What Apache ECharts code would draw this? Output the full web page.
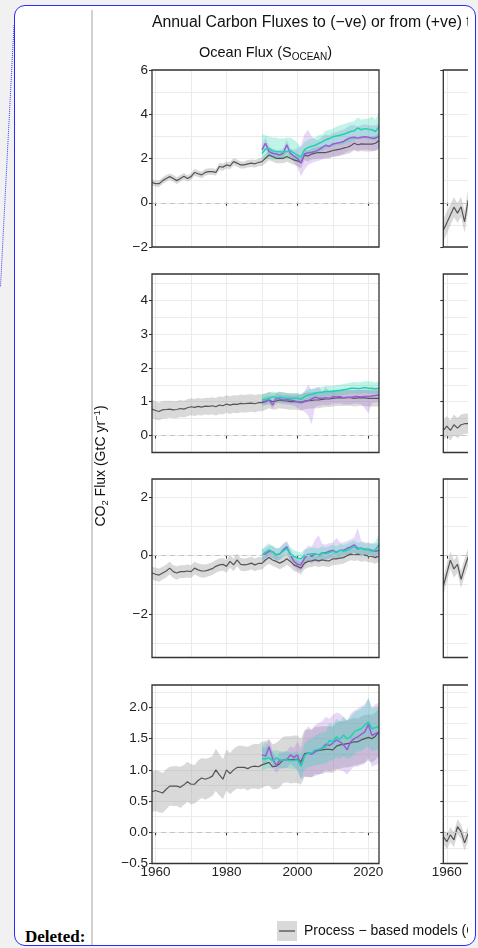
<!DOCTYPE html>
<html><head><meta charset="utf-8"><title>Annual Carbon Fluxes</title>
<script src="https://cdn.jsdelivr.net/npm/echarts@6.0.0/dist/echarts.min.js"></script>
<style>
html,body{margin:0;padding:0;background:#f1f1f1;width:478px;height:948px;overflow:hidden;}
#frame{position:absolute;left:14px;top:5px;width:462px;height:941px;box-sizing:border-box;border:1.5px solid #2a2aff;border-radius:11px;background:#fff;}
#vline{position:absolute;left:91px;top:10px;width:2px;height:935px;background:#d2d2d2;}
#dots{position:absolute;left:0;top:0;}
#clip{position:absolute;left:93px;top:6px;width:375px;height:939px;overflow:hidden;}
#chart{position:absolute;left:0;top:0;width:620px;height:939px;}
#deleted{position:absolute;left:25px;top:928px;font:bold 17px "Liberation Serif","Times New Roman",serif;color:#000;line-height:18px;}
</style></head>
<body>
<div id="frame"></div>
<div id="vline"></div>
<svg id="dots" width="20" height="300"><line x1="14" y1="25" x2="0.5" y2="287" stroke="#3b3bff" stroke-width="1" stroke-dasharray="1 1"/></svg>
<div id="clip"><div id="chart"></div></div>
<div id="deleted">Deleted:</div>
<script>
// ---------- data ----------
const years = [1959,1960,1961,1962,1963,1964,1965,1966,1967,1968,
  1969,1970,1971,1972,1973,1974,1975,1976,1977,1978,
  1979,1980,1981,1982,1983,1984,1985,1986,1987,1988,
  1989,1990,1991,1992,1993,1994,1995,1996,1997,1998,
  1999,2000,2001,2002,2003,2004,2005,2006,2007,2008,
  2009,2010,2011,2012,2013,2014,2015,2016,2017,2018,
  2019,2020,2021,2022,2023];
const yearsObs = years.slice(31);   // 1990-2023
const yearsRight = years.slice(0, 9); // 1959-1967 (visible part of 2nd column)

// Row 1 (global)
const p1ModelMean = [0.92,0.86,0.86,1.0,1.1,1.18,1.1,1.0,1.1,1.2,
  1.1,1.18,1.37,1.31,1.26,1.37,1.41,1.41,1.37,1.64,
  1.61,1.71,1.67,1.86,1.79,1.71,1.71,1.76,1.79,1.76,
  1.82,1.86,2.01,2.16,2.09,2.01,2.01,2.01,2.09,2.01,
  1.94,1.89,1.82,2.16,2.11,2.2,2.24,2.27,2.27,2.27,
  2.31,2.36,2.39,2.42,2.47,2.51,2.57,2.69,2.62,2.66,
  2.65,2.65,2.65,2.69,2.81];
const p1ModelSd = [0.14,0.14,0.15,0.15,0.15,0.14,0.15,0.15,0.15,0.15,
  0.14,0.15,0.15,0.15,0.15,0.15,0.15,0.15,0.15,0.16,
  0.16,0.16,0.16,0.16,0.16,0.16,0.16,0.17,0.17,0.17,
  0.17,0.2,0.22,0.24,0.22,0.22,0.22,0.22,0.24,0.22,
  0.22,0.24,0.26,0.24,0.25,0.25,0.26,0.27,0.27,0.28,
  0.28,0.29,0.3,0.3,0.3,0.31,0.31,0.32,0.32,0.32,
  0.33,0.33,0.33,0.34,0.34];
const p1TealMean = [2.22,2.42,2.45,2.35,2.3,2.3,2.28,2.32,2.35,2.25,
  2.15,2.08,2.4,2.5,2.55,2.6,2.68,2.75,2.85,2.9,
  2.98,3.02,3.05,3.1,3.15,3.22,3.25,3.38,3.3,3.35,
  3.32,3.3,3.22,3.44];
const p1TealLo = [1.95,2.0,2.0,1.95,1.95,1.95,1.95,2.0,2.0,1.9,
  1.85,1.8,2.05,2.15,2.2,2.25,2.3,2.35,2.45,2.5,
  2.55,2.6,2.6,2.65,2.7,2.75,2.8,2.9,2.85,2.9,
  2.85,2.85,2.8,2.95];
const p1TealHi = [3.1,3.05,3.0,2.95,2.95,2.9,2.9,2.95,2.95,2.85,
  2.7,2.5,2.75,2.85,2.9,2.95,3.05,3.1,3.25,3.3,
  3.35,3.45,3.5,3.55,3.6,3.65,3.7,3.85,3.75,3.8,
  3.8,3.9,3.75,4.1];
const p1PurpleMean = [2.39,2.69,2.31,2.24,2.2,2.16,2.24,2.62,2.24,2.11,
  2.01,1.79,2.2,2.26,2.28,2.32,2.39,2.5,2.6,2.55,
  2.66,2.69,2.72,2.77,2.87,2.94,2.96,2.92,2.96,2.98,
  2.96,2.92,2.92,3.0];
const p1PurpleLo = [2.15,2.4,2.1,2.05,2.0,1.95,2.0,2.35,2.0,1.85,
  1.6,1.2,1.5,1.7,1.8,1.85,1.9,1.95,2.05,2.0,
  2.1,2.1,2.15,2.2,2.3,2.35,2.4,2.35,2.4,2.4,
  2.4,2.35,2.35,2.4];
const p1PurpleHi = [2.6,2.95,2.55,2.45,2.4,2.4,2.45,2.85,2.45,2.4,
  2.45,2.6,3.1,3.3,3.0,2.85,2.85,3.0,3.1,3.05,
  3.15,3.2,3.25,3.3,3.4,3.5,3.5,3.45,3.5,3.55,
  3.5,3.5,3.5,3.6];

// Row 2 (north)
const p2ModelMean = [0.78,0.74,0.71,0.76,0.77,0.78,0.76,0.77,0.8,0.78,
  0.82,0.85,0.83,0.86,0.84,0.87,0.86,0.88,0.85,0.9,
  0.88,0.93,0.9,0.93,0.92,0.95,0.94,0.95,0.96,0.94,
  0.97,0.97,1.0,1.05,1.0,1.02,1.05,1.03,1.02,1.0,
  1.0,1.0,0.98,1.02,1.03,1.04,1.05,1.05,1.07,1.08,
  1.08,1.1,1.11,1.12,1.11,1.12,1.12,1.1,1.11,1.12,
  1.11,1.1,1.1,1.1,1.1];
const p2ModelSd = [0.27,0.27,0.26,0.26,0.26,0.25,0.25,0.25,0.25,0.25,
  0.25,0.25,0.25,0.25,0.25,0.25,0.25,0.25,0.26,0.26,
  0.26,0.26,0.26,0.26,0.26,0.26,0.26,0.26,0.26,0.26,
  0.25,0.25,0.24,0.24,0.24,0.24,0.24,0.24,0.24,0.24,
  0.24,0.24,0.24,0.24,0.24,0.24,0.24,0.24,0.24,0.24,
  0.24,0.24,0.24,0.24,0.24,0.24,0.24,0.24,0.24,0.24,
  0.24,0.24,0.24,0.24,0.24];
const p2TealMean = [1.05,1.07,1.1,1.15,1.12,1.13,1.12,1.1,1.1,1.1,
  1.1,1.07,1.15,1.2,1.22,1.25,1.27,1.28,1.3,1.3,
  1.3,1.32,1.33,1.35,1.37,1.4,1.4,1.39,1.4,1.42,
  1.4,1.4,1.38,1.4];
const p2TealLo = [0.88,0.9,0.95,1.0,0.97,0.98,0.97,0.95,0.95,0.95,
  0.95,0.92,1.0,1.05,1.07,1.1,1.12,1.13,1.15,1.15,
  1.15,1.17,1.18,1.2,1.22,1.24,1.24,1.23,1.24,1.26,
  1.24,1.24,1.22,1.24];
const p2TealHi = [1.22,1.25,1.27,1.3,1.28,1.29,1.28,1.26,1.26,1.26,
  1.26,1.23,1.3,1.36,1.38,1.41,1.43,1.44,1.46,1.47,
  1.47,1.49,1.5,1.52,1.54,1.57,1.58,1.57,1.58,1.6,
  1.6,1.59,1.57,1.6];
const p2PurpleMean = [1.0,1.02,1.05,0.9,1.1,1.08,1.05,1.06,1.05,1.03,
  1.0,0.97,1.0,1.03,1.08,1.13,1.1,1.1,1.12,1.1,
  1.15,1.14,1.15,1.12,1.13,1.13,1.15,1.15,1.14,1.15,
  1.15,1.17,1.18,1.2];
const p2PurpleLo = [0.88,0.9,0.92,0.8,0.95,0.95,0.92,0.92,0.9,0.88,
  0.82,0.75,0.7,0.6,0.33,0.85,0.88,0.9,0.9,0.9,
  0.95,0.95,0.95,0.92,0.92,0.92,0.95,0.95,0.92,0.8,
  0.65,0.95,0.98,1.0];
const p2PurpleHi = [1.12,1.15,1.18,1.05,1.25,1.22,1.2,1.2,1.2,1.18,
  1.2,1.2,1.3,1.5,1.35,1.38,1.44,1.3,1.45,1.3,
  1.35,1.34,1.35,1.32,1.33,1.33,1.35,1.35,1.34,1.36,
  1.36,1.38,1.4,1.42];

// Row 3 (tropics)
const p3ModelMean = [-0.6,-0.64,-0.67,-0.6,-0.53,-0.43,-0.55,-0.6,-0.55,-0.55,
  -0.53,-0.55,-0.43,-0.49,-0.53,-0.53,-0.49,-0.45,-0.37,-0.32,
  -0.3,-0.37,-0.2,-0.32,-0.15,-0.3,-0.32,-0.3,-0.26,-0.32,
  -0.27,-0.27,-0.15,-0.07,-0.15,-0.2,-0.26,-0.2,-0.11,-0.2,
  -0.32,-0.37,-0.43,-0.26,-0.2,-0.18,-0.15,-0.18,-0.15,-0.17,
  -0.18,-0.11,-0.11,-0.09,-0.07,0.0,0.05,0.02,0.05,0.0,
  0.02,-0.02,-0.03,-0.07,0.0];
const p3ModelSd = [0.22,0.22,0.23,0.22,0.22,0.22,0.22,0.23,0.22,0.22,
  0.22,0.22,0.22,0.22,0.23,0.22,0.22,0.22,0.22,0.22,
  0.22,0.22,0.22,0.22,0.22,0.22,0.22,0.22,0.22,0.22,
  0.22,0.22,0.21,0.21,0.21,0.21,0.21,0.21,0.21,0.21,
  0.21,0.21,0.22,0.21,0.21,0.21,0.21,0.21,0.21,0.21,
  0.21,0.21,0.21,0.21,0.21,0.21,0.21,0.21,0.21,0.21,
  0.21,0.21,0.21,0.21,0.21];
const p3TealMean = [0.0,0.12,0.2,0.12,0.03,0.06,0.15,0.25,0.05,-0.03,
  -0.09,-0.11,0.0,0.02,0.06,0.06,0.02,0.1,0.06,0.1,
  0.15,0.1,0.18,0.15,0.18,0.25,0.3,0.22,0.25,0.2,
  0.2,0.15,0.2,0.37];
const p3TealLo = [-0.2,-0.08,0.0,-0.08,-0.17,-0.14,-0.05,0.05,-0.15,-0.23,
  -0.29,-0.31,-0.2,-0.18,-0.14,-0.14,-0.18,-0.1,-0.14,-0.1,
  -0.05,-0.1,-0.02,-0.05,-0.02,0.05,0.1,0.02,0.05,0.0,
  0.0,-0.05,0.0,0.1];
const p3TealHi = [0.22,0.34,0.42,0.34,0.25,0.28,0.37,0.47,0.27,0.19,
  0.13,0.11,0.22,0.24,0.28,0.28,0.24,0.32,0.28,0.32,
  0.37,0.32,0.4,0.37,0.4,0.47,0.52,0.44,0.47,0.42,
  0.42,0.4,0.48,0.72];
const p3PurpleMean = [0.0,0.06,0.15,0.13,0.03,0.05,0.2,0.3,0.03,-0.2,
  -0.3,-0.32,-0.09,0.05,-0.03,0.06,0.0,0.1,0.1,0.15,
  0.18,0.12,0.18,0.18,0.25,0.3,0.37,0.25,0.25,0.22,
  0.22,0.18,0.15,0.18];
const p3PurpleLo = [-0.2,-0.15,-0.05,-0.08,-0.18,-0.15,0.0,0.1,-0.18,-0.4,
  -0.5,-0.55,-0.35,-0.2,-0.28,-0.2,-0.25,-0.15,-0.15,-0.1,
  -0.08,-0.12,-0.06,-0.06,0.0,0.05,0.1,0.0,0.0,-0.02,
  -0.02,-0.06,-0.1,-0.08];
const p3PurpleHi = [0.2,0.27,0.35,0.33,0.24,0.26,0.42,0.5,0.24,0.0,
  -0.1,-0.1,0.18,0.35,0.3,0.55,0.7,0.4,0.38,0.42,
  0.45,0.6,0.45,0.45,0.5,0.55,0.62,0.95,0.5,0.45,
  0.45,0.42,0.4,0.45];

// Row 4 (south)
const p4ModelMean = [0.65,0.67,0.65,0.63,0.69,0.74,0.74,0.74,0.72,0.76,
  0.81,0.77,0.77,0.83,0.87,0.85,0.87,0.9,1.0,0.92,
  0.85,1.0,0.94,1.0,1.04,1.04,1.04,1.02,1.05,1.06,
  1.05,1.08,1.1,1.12,1.05,1.06,1.1,1.16,1.17,1.16,
  1.17,1.17,1.13,1.26,1.27,1.26,1.31,1.31,1.32,1.33,
  1.33,1.32,1.38,1.4,1.41,1.42,1.43,1.45,1.45,1.48,
  1.5,1.52,1.5,1.54,1.61];
const p4ModelSd = [0.32,0.33,0.33,0.32,0.32,0.31,0.32,0.32,0.33,0.32,
  0.32,0.32,0.31,0.32,0.32,0.33,0.32,0.32,0.34,0.33,
  0.32,0.33,0.33,0.34,0.34,0.35,0.34,0.35,0.35,0.36,
  0.36,0.37,0.36,0.37,0.36,0.37,0.38,0.37,0.37,0.38,
  0.38,0.38,0.37,0.38,0.38,0.38,0.38,0.38,0.38,0.37,
  0.37,0.37,0.38,0.38,0.37,0.38,0.38,0.38,0.37,0.38,
  0.38,0.37,0.38,0.38,0.38];
const p4TealMean = [1.18,1.18,1.19,1.15,1.19,1.16,1.16,1.16,1.15,1.15,
  1.16,1.06,1.22,1.27,1.27,1.32,1.33,1.35,1.37,1.47,
  1.45,1.53,1.49,1.56,1.5,1.53,1.61,1.64,1.66,1.72,
  1.77,1.66,1.68,1.69];
const p4TealLo = [1.0,1.02,1.03,1.02,1.05,1.03,1.03,1.03,1.02,1.02,
  1.0,0.84,1.0,1.05,1.05,1.08,1.08,1.1,1.1,1.15,
  1.15,1.2,1.18,1.22,1.18,1.2,1.25,1.3,1.3,1.35,
  1.38,1.3,1.32,1.32];
const p4TealHi = [1.38,1.45,1.35,1.3,1.32,1.3,1.3,1.3,1.28,1.28,
  1.3,1.25,1.42,1.48,1.5,1.55,1.58,1.6,1.62,1.75,
  1.72,1.82,1.78,1.85,1.8,1.85,1.92,1.95,1.98,2.02,
  2.15,1.98,2.0,2.02];
const p4PurpleMean = [1.24,1.22,1.37,1.18,1.07,1.15,1.15,1.16,1.24,1.2,
  1.24,1.07,1.24,1.27,1.25,1.29,1.32,1.35,1.41,1.39,
  1.43,1.48,1.45,1.4,1.32,1.45,1.5,1.53,1.57,1.61,
  1.73,1.55,1.58,1.61];
const p4PurpleLo = [1.12,1.1,1.22,1.05,0.95,1.02,1.02,1.03,1.1,1.05,
  1.0,0.85,0.9,0.88,0.88,0.9,0.92,0.95,1.0,0.98,
  1.0,1.02,1.0,0.98,0.92,1.0,1.05,1.05,1.08,1.1,
  1.2,1.05,1.08,1.1];
const p4PurpleHi = [1.36,1.35,1.5,1.3,1.2,1.28,1.28,1.3,1.38,1.35,
  1.45,1.35,1.6,1.7,1.65,1.72,1.75,1.78,1.85,1.82,
  1.88,1.92,1.9,1.85,1.78,1.9,1.95,1.98,2.02,2.05,
  2.15,2.0,2.05,2.08];

// Second column (only its first years are visible)
const r1Mean = [-1.24,-0.9,-0.55,-0.2,-0.47,-0.18,-0.86,0.12,-0.3];
const r1Sd   = [0.5,0.5,0.48,0.45,0.45,0.45,0.5,0.5,0.5];
const r2Mean = [0.15,0.28,0.15,0.32,0.22,0.32,0.35,0.35,0.38];
const r2Sd   = [0.3,0.3,0.3,0.3,0.3,0.3,0.3,0.3,0.3];
const r3Mean = [-1.05,-0.6,-0.16,-0.46,-0.3,-0.82,-0.4,-0.05,-0.3];
const r3Sd   = [0.3,0.3,0.3,0.3,0.3,0.3,0.3,0.3,0.3];
const r4Mean = [-0.07,-0.15,-0.04,-0.12,0.09,0.01,-0.17,-0.02,0.0];
const r4Sd   = [0.12,0.12,0.12,0.12,0.12,0.12,0.12,0.12,0.12];

// axes
const xMin = 1959, xMax = 2023;
const xGridValues = [1960,1970,1980,1990,2000,2010,2020];
const xTickValues = [1960,1980,2000,2020];
const yMin = [-2, -0.5, -3.5, -0.5];
const yMax = [6, 4.77, 2.63, 2.36];
const yGridValues = [
  [-2,-1,0,1,2,3,4,5,6],
  [-0.5,0,0.5,1,1.5,2,2.5,3,3.5,4,4.5],
  [-3,-2,-1,0,1,2],
  [-0.5,-0.25,0,0.25,0.5,0.75,1,1.25,1.5,1.75,2,2.25]
];
const yTickValues = [[-2,0,2,4,6],[0,1,2,3,4],[-2,0,2],[-0.5,0,0.5,1,1.5,2]];
const yDecimals = [0,0,0,1];

const titleText = 'Annual Carbon Fluxes to (\u2212ve) or from (+ve) the Atmosphere';
const subtitleText = 'Ocean Flux (S{sub|OCEAN})';
const yTitleText = 'CO{sub|2} Flux (GtC yr{sup|\u22121})';
const legendText = 'Process \u2212 based models (GOBMs)';

// ---------- build ----------
const rows = [
  {model:[p1ModelMean,p1ModelSd], teal:[p1TealMean,p1TealLo,p1TealHi], purple:[p1PurpleMean,p1PurpleLo,p1PurpleHi], right:[r1Mean,r1Sd]},
  {model:[p2ModelMean,p2ModelSd], teal:[p2TealMean,p2TealLo,p2TealHi], purple:[p2PurpleMean,p2PurpleLo,p2PurpleHi], right:[r2Mean,r2Sd]},
  {model:[p3ModelMean,p3ModelSd], teal:[p3TealMean,p3TealLo,p3TealHi], purple:[p3PurpleMean,p3PurpleLo,p3PurpleHi], right:[r3Mean,r3Sd]},
  {model:[p4ModelMean,p4ModelSd], teal:[p4TealMean,p4TealLo,p4TealHi], purple:[p4PurpleMean,p4PurpleLo,p4PurpleHi], right:[r4Mean,r4Sd]}
];
rows.forEach((r,i)=>{
  r.model.forEach(a=>{ if(a.length!==years.length) throw new Error('row '+i+' model len '+a.length); });
  r.teal.concat(r.purple).forEach(a=>{ if(a.length!==yearsObs.length) throw new Error('row '+i+' obs len '+a.length); });
  r.right.forEach(a=>{ if(a.length!==yearsRight.length) throw new Error('row '+i+' right len '+a.length); });
});

const FONT = '"Liberation Sans", Arial, Helvetica, sans-serif';
const GRIDC = '#ebebeb';
const rowTop = [64, 268, 473, 679];
const rowH = [177, 178.5, 178.5, 178.5];
const colLeft = [59, 350.3];
const colW = 227;

const GRAY_LINE = '#555555', GRAY_BAND = 'rgba(160,160,160,0.4)';
const TEAL_LINE = '#1fd3b0', TEAL_BAND = 'rgba(34,211,176,0.28)';
const PURP_LINE = '#9a5cd6', PURP_BAND = 'rgba(155,95,213,0.24)';

const grids = [], xAxes = [], yAxes = [], series = [];
function fmtY(v, d){ return v.toFixed(d).replace('-', '\u2212'); }

// ribbon: one polygon built from all [x, lo, hi] items through the axis scales
function band(xs, lo, hi, color, xi, yi, withZero){
  const s = {type:'custom', xAxisIndex:xi, yAxisIndex:yi, silent:true, animation:false, clip:true,
    data: xs.map((x,k)=>[x, lo[k], hi[k]]),
    encode:{x:0, y:[1,2]},
    renderItem:(params, api)=>{
      if (params.dataIndexInside !== 0) return null;
      const n = params.dataInsideLength;
      const up = [], dn = [];
      for (let k = 0; k < n; k++) {
        const x = api.value(0, k);
        up.push(api.coord([x, api.value(2, k)]));
        dn.push(api.coord([x, api.value(1, k)]));
      }
      return {type:'polygon', silent:true, shape:{points: up.concat(dn.reverse())}, style:{fill:color}};
    }};
  if (withZero) {
    s.markLine = {silent:true, symbol:['none','none'], label:{show:false}, animation:false,
      lineStyle:{color:'#c4c4c4', type:[5,4], width:1.2}, data:[{yAxis:0}]};
  }
  series.push(s);
}
function line(xs, ys, color, w, xi, yi){
  series.push({type:'line', xAxisIndex:xi, yAxisIndex:yi, data: xs.map((x,k)=>[x, ys[k]]),
    symbol:'none', silent:true, lineStyle:{color:color, width:w}, animation:false});
}

for (let r = 0; r < 4; r++) {
  for (let c = 0; c < 2; c++) {
    const gi = grids.length;
    grids.push({left:colLeft[c], top:rowTop[r], width:colW, height:rowH[r], show:true,
      borderColor:'#333', borderWidth:1.3, backgroundColor:'transparent', z:10,
      containLabel:false, outerBoundsMode:'none'});
    const xi = xAxes.length;
    xAxes.push({gridIndex:gi, type:'value', min:xMin, max:xMax, position:'bottom',
      axisLine:{show:false},
      axisTick:{show:true, customValues:xTickValues, length:3, lineStyle:{color:'#333', width:1.1}},
      axisLabel:{show:r===3, customValues:xTickValues, margin:2, fontSize:13.5, color:'#222', fontFamily:FONT,
        formatter:v=>String(v)},
      splitLine:{show:false}});
    xAxes.push({gridIndex:gi, type:'value', min:xMin, max:xMax, position:'top',
      axisLine:{show:false}, axisTick:{show:false, customValues:xGridValues}, axisLabel:{show:false},
      splitLine:{show:true, lineStyle:{color:GRIDC, width:1}}});
    const yi = yAxes.length;
    yAxes.push({gridIndex:gi, type:'value', min:yMin[r], max:yMax[r], position:'left',
      axisLine:{show:false},
      axisTick:{show:true, customValues:yTickValues[r], length:3, lineStyle:{color:'#333', width:1.1}},
      axisLabel:{show:c===0, customValues:yTickValues[r], margin:4, fontSize:13.5, color:'#222', fontFamily:FONT,
        formatter:(v)=>fmtY(v, yDecimals[r])},
      splitLine:{show:false}});
    yAxes.push({gridIndex:gi, type:'value', min:yMin[r], max:yMax[r], position:'right',
      axisLine:{show:false}, axisTick:{show:false, customValues:yGridValues[r]}, axisLabel:{show:false},
      splitLine:{show:true, lineStyle:{color:GRIDC, width:1}}});

    const row = rows[r];
    if (c === 0) {
      const mLo = row.model[0].map((m,k)=>m - row.model[1][k]);
      const mHi = row.model[0].map((m,k)=>m + row.model[1][k]);
      band(years, mLo, mHi, GRAY_BAND, xi, yi, true);
      line(years, row.model[0], GRAY_LINE, 1.2, xi, yi);
      band(yearsObs, row.purple[1], row.purple[2], PURP_BAND, xi, yi, false);
      band(yearsObs, row.teal[1], row.teal[2], TEAL_BAND, xi, yi, false);
      line(yearsObs, row.purple[0], PURP_LINE, 1.5, xi, yi);
      line(yearsObs, row.teal[0], TEAL_LINE, 1.5, xi, yi);
    } else {
      const mLo = row.right[0].map((m,k)=>m - row.right[1][k]);
      const mHi = row.right[0].map((m,k)=>m + row.right[1][k]);
      band(yearsRight, mLo, mHi, GRAY_BAND, xi, yi, true);
      line(yearsRight, row.right[0], GRAY_LINE, 1.2, xi, yi);
    }
  }
}

const graphic = [
  {type:'text', x:59, y:17, silent:true, style:{text:titleText, fill:'#111', font:'15.8px '+FONT,
    textAlign:'left', textVerticalAlign:'middle'}},
  {type:'text', x:colLeft[0]+colW/2, y:47, silent:true, style:{text:subtitleText, fill:'#111',
    fontSize:14.5, fontFamily:FONT, textAlign:'center', textVerticalAlign:'middle',
    rich:{sub:{fontSize:10, fontFamily:FONT, fill:'#111', padding:[8,0,0,0]}}}},
  {type:'text', x:8.5, y:460, rotation:Math.PI/2, silent:true, style:{text:yTitleText, fill:'#111',
    fontSize:14, fontFamily:FONT, textAlign:'center', textVerticalAlign:'middle',
    rich:{sub:{fontSize:9.5, fontFamily:FONT, fill:'#111', padding:[8,0,0,0]},
          sup:{fontSize:9.5, fontFamily:FONT, fill:'#111', padding:[0,0,8,0]}}}},
  {type:'rect', shape:{x:184, y:915, width:20, height:20}, silent:true, style:{fill:'#d9d9d9'}},
  {type:'line', shape:{x1:186, y1:925, x2:202, y2:925}, silent:true, style:{stroke:'#444', lineWidth:1.2}},
  {type:'text', x:211, y:925, silent:true, style:{text:legendText, fill:'#111', font:'14px '+FONT,
    textAlign:'left', textVerticalAlign:'middle'}}
];

const chart = echarts.init(document.getElementById('chart'), null, {renderer:'canvas'});
chart.setOption({animation:false, backgroundColor:'transparent', grid:grids, xAxis:xAxes, yAxis:yAxes,
  series:series, graphic:graphic});
</script>
</body></html>
